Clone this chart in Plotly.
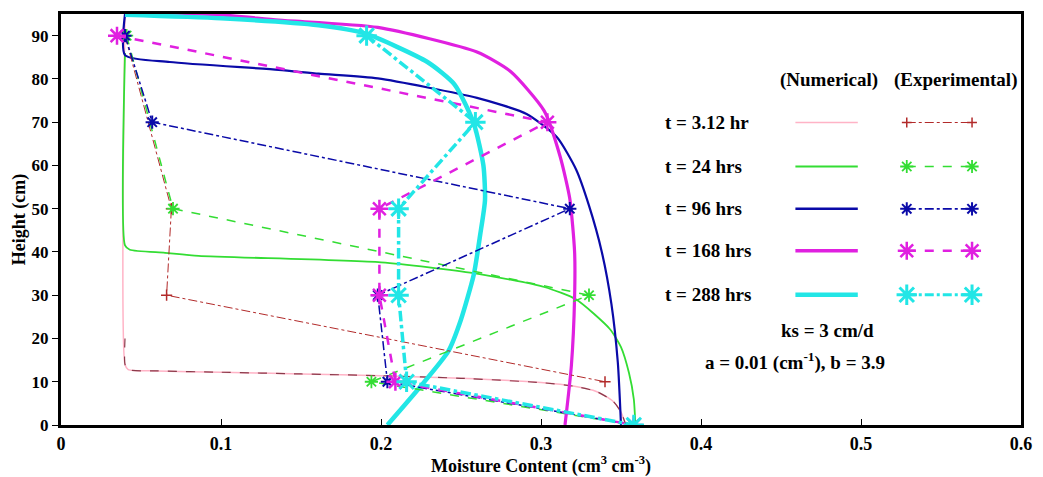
import plotly.graph_objects as go

# ---------------- data ----------------
labels = ["t = 3.12 hr", "t = 24 hrs", "t = 96 hrs", "t = 168 hrs", "t = 288 hrs"]

# Numerical (solid) curves: moisture content vs height
num_312_x = [0.040, 0.040, 0.042, 0.060, 0.100, 0.150, 0.200, 0.250, 0.300, 0.320, 0.335, 0.345, 0.350, 0.353]
num_312_y = [95.0, 14.0, 12.8, 12.5, 12.2, 11.8, 11.4, 10.8, 9.8, 9.0, 7.7, 5.5, 3.0, 0.0]

num_24_x = [0.040, 0.040, 0.043, 0.065, 0.086, 0.200, 0.258, 0.302, 0.322, 0.343, 0.350, 0.355, 0.358, 0.359]
num_24_y = [86.0, 41.5, 40.5, 39.8, 39.1, 37.6, 35.1, 31.9, 29.0, 22.2, 18.0, 12.0, 6.0, 0.0]

num_96_x = [0.040, 0.040, 0.068, 0.136, 0.161, 0.198, 0.260, 0.291, 0.310, 0.322, 0.330, 0.338, 0.344, 0.348, 0.350]
num_96_y = [95.0, 85.5, 83.9, 82.1, 81.2, 80.1, 75.6, 71.9, 66.5, 59.0, 50.7, 40.0, 28.0, 14.5, 0.0]

num_168_x = [0.040, 0.100, 0.136, 0.198, 0.260, 0.281, 0.302, 0.312, 0.318, 0.321, 0.321, 0.319, 0.315]
num_168_y = [95.5, 94.8, 93.6, 91.9, 86.2, 81.7, 72.6, 62.0, 52.3, 40.0, 29.6, 13.8, 0.0]

num_288_x = [0.040, 0.100, 0.161, 0.190, 0.229, 0.246, 0.258, 0.264, 0.265, 0.262, 0.258, 0.250, 0.242, 0.224, 0.204]
num_288_y = [94.8, 94.0, 92.4, 90.5, 83.9, 78.7, 69.7, 60.0, 52.0, 44.0, 34.8, 24.4, 17.0, 8.6, 0.0]

# Experimental (markers + broken lines)
exp_312_x = [0.040, 0.069, 0.066, 0.340]
exp_312_y = [90, 50, 30, 10]

exp_24_x = [0.041, 0.070, 0.330, 0.194, 0.358]
exp_24_y = [90, 50, 30, 10, 0]

exp_96_x = [0.040, 0.057, 0.318, 0.198, 0.204, 0.358]
exp_96_y = [90, 70, 50, 30, 10, 0]

exp_168_x = [0.035, 0.304, 0.199, 0.199, 0.209, 0.358]
exp_168_y = [90, 70, 50, 30, 10, 0]

exp_288_x = [0.191, 0.259, 0.211, 0.211, 0.216, 0.358]
exp_288_y = [90, 70, 50, 30, 10, 0]

x_ticks = [0, 0.1, 0.2, 0.3, 0.4, 0.5, 0.6]
x_tick_text = ["0", "0.1", "0.2", "0.3", "0.4", "0.5", "0.6"]
y_ticks = [0, 10, 20, 30, 40, 50, 60, 70, 80, 90]

X_RANGE = [0, 0.6]
Y_RANGE = [0, 95]

# ---------------- styles ----------------
FONT = "Liberation Serif"
C_PINK = "#ffb3c6"
C_RED = "#b22a2a"
C_GREEN = "#33dd33"
C_BLUE = "#0a0aa8"
C_MAG = "#e020e0"
C_CYAN = "#22e6e6"

fig = go.Figure()

def solid(x, y, color, width):
    fig.add_trace(go.Scatter(x=x, y=y, mode="lines", line=dict(color=color, width=width, shape="spline", smoothing=0.6),
                             showlegend=False, hoverinfo="skip"))

def exper(x, y, color, width, dash, symbol, size, mlw):
    fig.add_trace(go.Scatter(x=x, y=y, mode="lines+markers",
                             line=dict(color=color, width=width, dash=dash),
                             marker=dict(symbol=symbol, size=size, color=color, line=dict(color=color, width=mlw)),
                             showlegend=False, hoverinfo="skip"))

# numerical curves
solid(num_312_x, num_312_y, C_PINK, 1.5)
# darker dashes seen along the lower part of the 3.12 hr curve
low_x = [x for x, y in zip(num_312_x, num_312_y) if y <= 20]
low_y = [y for y in num_312_y if y <= 20]
fig.add_trace(go.Scatter(x=[num_312_x[0]] + low_x, y=[20] + low_y, mode="lines",
                         line=dict(color="#8b3a4a", width=1.2, dash="dash", shape="spline", smoothing=0.6),
                         showlegend=False, hoverinfo="skip"))
solid(num_24_x, num_24_y, C_GREEN, 1.8)
solid(num_96_x, num_96_y, C_BLUE, 2.2)
solid(num_168_x, num_168_y, C_MAG, 3.2)
solid(num_288_x, num_288_y, C_CYAN, 4.5)

# experimental
exper(exp_312_x, exp_312_y, C_RED, 1.0, "dashdot", "cross-thin-open", 8, 1.5)
exper(exp_24_x, exp_24_y, C_GREEN, 1.5, "dash", "asterisk-open", 11, 1.8)
exper(exp_96_x, exp_96_y, C_BLUE, 1.5, "dashdot", "asterisk-open", 11, 2.0)
exper(exp_168_x, exp_168_y, C_MAG, 2.5, "dash", "asterisk-open", 15, 2.5)
exper(exp_288_x, exp_288_y, C_CYAN, 3.5, "dashdot", "asterisk-open", 17, 3.0)

# ---------------- custom legend (positions given as fractions of the plot area) ----------------
row_y = [0.736, 0.629, 0.526, 0.424, 0.317]
num_seg = [0.765, 0.830]
exp_seg = [0.881, 0.949]
leg_styles = [
    (C_PINK, 1.5, C_RED, 1.0, "dashdot", "cross-thin-open", 7, 1.5),
    (C_GREEN, 1.8, C_GREEN, 1.5, "dash", "asterisk-open", 11, 1.8),
    (C_BLUE, 2.6, C_BLUE, 1.8, "dashdot", "asterisk-open", 11, 2.0),
    (C_MAG, 3.5, C_MAG, 2.5, "dash", "asterisk-open", 15, 2.5),
    (C_CYAN, 4.5, C_CYAN, 3.0, "dashdot", "asterisk-open", 17, 3.0),
]

def fx(f):
    return X_RANGE[0] + f * (X_RANGE[1] - X_RANGE[0])

def fy(f):
    return Y_RANGE[0] + f * (Y_RANGE[1] - Y_RANGE[0])

LEG_SIZE = 19
for lab, ry, st in zip(labels, row_y, leg_styles):
    nc, nw, ec, ew, ed, es, ms, mlw = st
    fig.add_shape(type="line", xref="paper", yref="paper", x0=num_seg[0], x1=num_seg[1], y0=ry, y1=ry,
                  line=dict(color=nc, width=nw))
    fig.add_trace(go.Scatter(x=[fx(v) for v in exp_seg], y=[fy(ry), fy(ry)], mode="lines+markers",
                             line=dict(color=ec, width=ew, dash=ed),
                             marker=dict(symbol=es, size=ms, color=ec, line=dict(color=ec, width=mlw)),
                             showlegend=False, hoverinfo="skip"))
    fig.add_annotation(xref="paper", yref="paper", x=0.627, y=ry, text="<b>" + lab + "</b>", showarrow=False,
                       xanchor="left", yanchor="middle", font=dict(family=FONT, size=LEG_SIZE, color="black"))

tfont = dict(family=FONT, size=LEG_SIZE, color="black")
fig.add_annotation(xref="paper", yref="paper", x=0.800, y=0.840, text="<b>(Numerical)</b>", showarrow=False,
                   xanchor="center", yanchor="middle", font=tfont)
fig.add_annotation(xref="paper", yref="paper", x=0.866, y=0.840, text="<b>(Experimental)</b>", showarrow=False,
                   xanchor="left", yanchor="middle", font=tfont)
fig.add_annotation(xref="paper", yref="paper", x=0.798, y=0.229, text="<b>ks = 3 cm/d</b>", showarrow=False,
                   xanchor="center", yanchor="middle", font=tfont)
fig.add_annotation(xref="paper", yref="paper", x=0.765, y=0.155,
                   text="<b>a = 0.01 (cm<sup>-1</sup>), b = 3.9</b>", showarrow=False,
                   xanchor="center", yanchor="middle", font=tfont)

axis_common = dict(showline=True, linecolor="black", linewidth=3, mirror=True, showgrid=False, zeroline=False,
                   tickcolor="black", ticklen=6, tickwidth=1)

fig.update_layout(
    width=1043, height=477,
    margin=dict(l=61, r=16, t=11, b=46),
    paper_bgcolor="white", plot_bgcolor="white",
    xaxis=dict(range=X_RANGE, tickvals=x_ticks, ticktext=["<b>%s</b>" % t for t in x_tick_text],
               ticks="inside", tickfont=dict(family=FONT, size=18, color="black"),
               title=dict(text="<b>Moisture Content (cm<sup>3</sup> cm<sup>-3</sup>)</b>",
                          font=dict(family=FONT, size=18, color="black"), standoff=0),
               **axis_common),
    yaxis=dict(range=Y_RANGE, tickvals=y_ticks, ticktext=["<b>%d</b>" % v for v in y_ticks],
               ticks="outside", tickfont=dict(family=FONT, size=17, color="black"),
               title=dict(text="<b>Height (cm)</b>", font=dict(family=FONT, size=18, color="black"), standoff=2),
               **axis_common),
    showlegend=False,
)

fig.write_html("out.html")
